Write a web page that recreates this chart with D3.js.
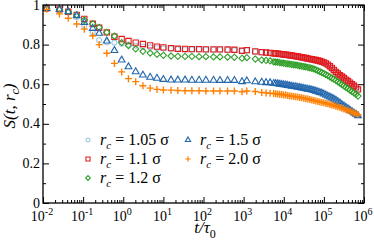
<!DOCTYPE html>
<html>
<head>
<meta charset="utf-8">
<script src="https://cdn.jsdelivr.net/npm/d3@7"></script>
<style>
  body { margin: 0; background: #fff; }
</style>
</head>
<body>
<div id="chart"></div>
<script>
// time points, stored as log10(t / tau0)
var log10t = [-1.91, -1.59, -1.37, -1.16, -0.97, -0.76, -0.60, -0.41, -0.22, -0.04,
  0.13, 0.31, 0.49, 0.67, 0.84, 1.00, 1.19, 1.36, 1.54, 1.71, 1.89, 2.06, 2.25, 2.41,
  2.60, 2.77, 2.96, 3.08, 3.29, 3.45, 3.56, 3.66,
  3.75, 3.80, 3.85, 3.90, 3.95, 4.00, 4.05, 4.10, 4.15, 4.20, 4.25, 4.30, 4.35, 4.40,
  4.45, 4.50, 4.55, 4.60, 4.65, 4.70, 4.75, 4.80, 4.85, 4.90, 4.95, 5.00, 5.05, 5.10,
  5.15, 5.20, 5.25, 5.30, 5.35, 5.40, 5.45, 5.50, 5.55, 5.60, 5.65, 5.70, 5.75, 5.80, 5.85];

var s105 = [0.980, 0.975, 0.962, 0.940, 0.894, 0.862, 0.822, 0.812, 0.810, 0.805,
  0.800, 0.795, 0.790, 0.786, 0.783, 0.781, 0.779, 0.777, 0.776, 0.776, 0.775, 0.775, 0.774, 0.774,
  0.773, 0.772, 0.768, 0.770, 0.764, 0.760, 0.758, 0.756,
  0.753, 0.752, 0.751, 0.750, 0.749, 0.747, 0.746, 0.745, 0.743, 0.742, 0.740, 0.739, 0.737, 0.735,
  0.733, 0.731, 0.729, 0.727, 0.725, 0.723, 0.721, 0.719, 0.717, 0.714, 0.711, 0.707, 0.702, 0.696,
  0.688, 0.679, 0.669, 0.659, 0.651, 0.643, 0.636, 0.628, 0.620, 0.613, 0.605, 0.597, 0.589, 0.581, 0.571];

var s11 = [0.983, 0.978, 0.966, 0.950, 0.930, 0.905, 0.885, 0.862, 0.840, 0.828,
  0.818, 0.810, 0.803, 0.796, 0.790, 0.786, 0.782, 0.779, 0.778, 0.777, 0.777, 0.776, 0.776, 0.776,
  0.775, 0.774, 0.769, 0.772, 0.766, 0.762, 0.760, 0.758,
  0.756, 0.755, 0.754, 0.753, 0.752, 0.750, 0.749, 0.748, 0.746, 0.745, 0.743, 0.742, 0.740, 0.738,
  0.736, 0.734, 0.732, 0.730, 0.728, 0.726, 0.724, 0.722, 0.720, 0.717, 0.714, 0.710, 0.705, 0.699,
  0.691, 0.682, 0.672, 0.662, 0.654, 0.646, 0.639, 0.631, 0.623, 0.616, 0.608, 0.600, 0.592, 0.584, 0.574];

var s12 = [0.983, 0.978, 0.966, 0.950, 0.924, 0.905, 0.887, 0.862, 0.843, 0.810,
  0.795, 0.778, 0.766, 0.757, 0.751, 0.746, 0.742, 0.741, 0.740, 0.740, 0.739, 0.739, 0.738, 0.738,
  0.737, 0.736, 0.731, 0.734, 0.727, 0.722, 0.720, 0.718,
  0.713, 0.712, 0.711, 0.709, 0.707, 0.706, 0.704, 0.703, 0.701, 0.700, 0.698, 0.697, 0.695, 0.693,
  0.691, 0.689, 0.687, 0.685, 0.683, 0.680, 0.677, 0.673, 0.668, 0.664, 0.659, 0.654, 0.648, 0.643,
  0.637, 0.631, 0.626, 0.619, 0.612, 0.605, 0.598, 0.591, 0.584, 0.577, 0.570, 0.563, 0.556, 0.549, 0.540];

var s15 = [0.983, 0.978, 0.966, 0.946, 0.912, 0.882, 0.857, 0.818, 0.770, 0.722,
  0.688, 0.663, 0.646, 0.635, 0.630, 0.624, 0.621, 0.621, 0.621, 0.620, 0.620, 0.620, 0.620, 0.619,
  0.619, 0.619, 0.613, 0.617, 0.612, 0.610, 0.608, 0.607,
  0.604, 0.603, 0.602, 0.600, 0.599, 0.597, 0.596, 0.594, 0.592, 0.590, 0.588, 0.587, 0.585, 0.583,
  0.581, 0.579, 0.577, 0.575, 0.573, 0.571, 0.568, 0.565, 0.562, 0.558, 0.555, 0.550, 0.545, 0.540,
  0.535, 0.530, 0.525, 0.519, 0.512, 0.505, 0.497, 0.490, 0.483, 0.476, 0.469, 0.462, 0.455, 0.448, 0.441];

var s20 = [0.978, 0.955, 0.933, 0.904, 0.878, 0.845, 0.800, 0.756, 0.705, 0.662,
  0.628, 0.613, 0.592, 0.580, 0.574, 0.571, 0.570, 0.568, 0.567, 0.567, 0.567, 0.566, 0.566, 0.566,
  0.566, 0.566, 0.562, 0.566, 0.563, 0.558, 0.556, 0.554,
  0.553, 0.552, 0.551, 0.549, 0.548, 0.546, 0.545, 0.543, 0.541, 0.540, 0.538, 0.537, 0.535, 0.533,
  0.531, 0.529, 0.527, 0.525, 0.523, 0.520, 0.518, 0.515, 0.513, 0.510, 0.508, 0.506, 0.503, 0.501,
  0.498, 0.495, 0.492, 0.489, 0.486, 0.482, 0.479, 0.475, 0.471, 0.467, 0.464, 0.460, 0.456, 0.452, 0.446];

var seriesNames = ["1.05", "1.1", "1.2", "1.5", "2.0"];
var seriesValues = [s105, s11, s12, s15, s20];
var seriesColors = ["#9ecae1", "#e41a1c", "#33a02c", "#2166ac", "#ff7f00"];

var yTicks = [0, 0.2, 0.4, 0.6, 0.8, 1];
var yMinor = [0.1, 0.3, 0.5, 0.7, 0.9];
var xDecades = [-2, -1, 0, 1, 2, 3, 4, 5, 6];

var FONT = "'Liberation Serif', 'Times New Roman', serif";

// marker shapes
var plusSym = { draw: function (ctx, size) {
  var r = Math.sqrt(size) / 2;
  ctx.moveTo(-r, 0); ctx.lineTo(r, 0);
  ctx.moveTo(0, -r); ctx.lineTo(0, r);
} };
var diamondSym = { draw: function (ctx, size) {
  var r = Math.sqrt(size) / 2;
  ctx.moveTo(0, -r); ctx.lineTo(r, 0); ctx.lineTo(0, r); ctx.lineTo(-r, 0); ctx.closePath();
} };
var seriesSymbols = [d3.symbolCircle, d3.symbolSquare, diamondSym, d3.symbolTriangle, plusSym];
var seriesSizes = [20, 28, 38, 20, 49];

var W = 374, H = 242;
var margin = { top: 5, right: 10, bottom: 39, left: 43 };
var width = W - margin.left - margin.right,
    height = H - margin.top - margin.bottom;

var svg = d3.select("#chart").append("svg")
  .attr("width", W).attr("height", H);
var g = svg.append("g")
  .attr("transform", "translate(" + margin.left + "," + margin.top + ")");

var x = d3.scaleLog().domain([1e-2, 1e6]).range([0, width]);
var y = d3.scaleLinear().domain([0, 1]).range([height, 0]);

// minor x ticks (2..9 times each decade)
var xMinor = [];
xDecades.slice(0, -1).forEach(function (e) {
  for (var k = 2; k <= 9; k++) xMinor.push(k * Math.pow(10, e));
});
var xMajor = xDecades.map(function (e) { return Math.pow(10, e); });

var tickStyle = function (sel) {
  sel.select(".domain").remove();
  sel.selectAll("line").attr("stroke", "#000").attr("stroke-width", 1);
  sel.selectAll("text").remove();
};

// bottom / top ticks pointing inwards
g.append("g").attr("transform", "translate(0," + height + ")")
  .call(d3.axisTop(x).tickValues(xMajor).tickSize(6)).call(tickStyle);
g.append("g").attr("transform", "translate(0," + height + ")")
  .call(d3.axisTop(x).tickValues(xMinor).tickSize(3)).call(tickStyle);
g.append("g")
  .call(d3.axisBottom(x).tickValues(xMajor).tickSize(6)).call(tickStyle);
g.append("g")
  .call(d3.axisBottom(x).tickValues(xMinor).tickSize(3)).call(tickStyle);

// left / right ticks pointing inwards
g.append("g").call(d3.axisRight(y).tickValues(yTicks).tickSize(6)).call(tickStyle);
g.append("g").call(d3.axisRight(y).tickValues(yMinor).tickSize(3)).call(tickStyle);
g.append("g").attr("transform", "translate(" + width + ",0)")
  .call(d3.axisLeft(y).tickValues(yTicks).tickSize(6)).call(tickStyle);
g.append("g").attr("transform", "translate(" + width + ",0)")
  .call(d3.axisLeft(y).tickValues(yMinor).tickSize(3)).call(tickStyle);

// y tick labels
g.append("g").selectAll("text").data(yTicks).enter().append("text")
  .attr("x", -3).attr("y", function (d) { return y(d) + 4.5; })
  .attr("text-anchor", "end")
  .style("font-family", FONT)
  .style("font-size", "14px")
  .text(function (d) { return d; });

// x tick labels as 10^n
var xl = g.append("g").selectAll("text").data(xDecades).enter().append("text")
  .attr("x", function (d) { return x(Math.pow(10, d)) - 1; })
  .attr("y", height + 18)
  .attr("text-anchor", "middle")
  .style("font-family", FONT)
  .style("font-size", "14px");
xl.append("tspan").text("10");
xl.append("tspan").attr("dy", -6).style("font-size", "10px")
  .text(function (d) { return d < 0 ? "-" + (-d) : d; });

// markers
var marks = g.append("g");
seriesValues.forEach(function (vals, i) {
  var sym = d3.symbol().type(seriesSymbols[i]).size(seriesSizes[i]);
  marks.append("g").selectAll("path")
    .data(vals.map(function (v, j) { return { t: Math.pow(10, log10t[j]), v: v }; }))
    .enter().append("path")
    .attr("transform", function (p) { return "translate(" + x(p.t) + "," + y(p.v) + ")"; })
    .attr("d", sym)
    .attr("fill", "none")
    .attr("stroke", seriesColors[i])
    .attr("stroke-width", i === 4 ? 1.4 : 1.1);
});

// frame
g.append("rect").attr("width", width).attr("height", height)
  .attr("fill", "none").attr("stroke", "#000").attr("stroke-width", 1.3);

// legend
var legendPos = [[45, 135], [45, 154], [45, 173], [145, 135], [145, 154]];
var legend = g.append("g").selectAll("g").data(seriesNames).enter().append("g")
  .attr("transform", function (d, i) { return "translate(" + legendPos[i][0] + "," + legendPos[i][1] + ")"; });
legend.append("path")
  .attr("d", function (d, i) { return d3.symbol().type(seriesSymbols[i]).size(seriesSizes[i] * 0.6)(); })
  .attr("fill", "none")
  .attr("stroke", function (d, i) { return seriesColors[i]; })
  .attr("stroke-width", 1.1);
var lt = legend.append("text").attr("x", 12).attr("y", 5)
  .style("font-family", FONT).style("font-size", "16px");
lt.append("tspan").style("font-style", "italic").text("r");
lt.append("tspan").style("font-style", "italic").style("font-size", "11px").attr("dy", 4).text("c");
lt.append("tspan").attr("dy", -4).text(function (d) { return " = " + d + " σ"; });

// axis titles
var xt = svg.append("text")
  .attr("x", 205).attr("y", 233)
  .attr("text-anchor", "middle")
  .style("font-family", FONT).style("font-size", "17px");
xt.append("tspan").style("font-style", "italic").text("t/τ");
xt.append("tspan").attr("dy", 5).style("font-size", "12px").text("0");

var yt = svg.append("text")
  .attr("transform", "translate(15,106) rotate(-90)")
  .attr("text-anchor", "middle")
  .style("font-family", FONT).style("font-size", "17px");
yt.append("tspan").style("font-style", "italic").text("S(t, r");
yt.append("tspan").style("font-style", "italic").style("font-size", "12px").attr("dy", 4).text("c");
yt.append("tspan").style("font-style", "italic").attr("dy", -4).text(")");
</script>
</body>
</html>
